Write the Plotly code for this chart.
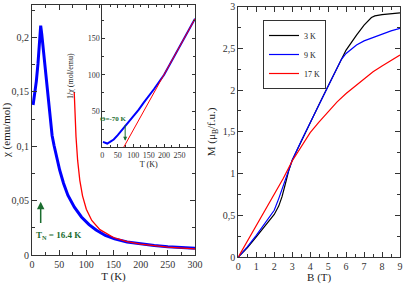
import plotly.graph_objects as go

# ---- main panel: susceptibility chi(T) ----
T_blue = [2, 5, 8, 11, 14, 16, 18, 21, 25, 29, 33.5, 37, 40.5, 45, 51, 58, 66, 78, 91,
          105, 118, 135, 152, 175, 200, 225, 250, 275, 300]
chi_blue = [0.138, 0.147, 0.160, 0.176, 0.197, 0.211, 0.203, 0.188, 0.165, 0.145, 0.124,
            0.110, 0.101, 0.090, 0.078, 0.066, 0.055, 0.044, 0.035, 0.028, 0.023, 0.018,
            0.0148, 0.012, 0.0102, 0.0088, 0.0077, 0.0068, 0.0061]
T_red = [77.7, 79, 81, 84, 88, 93, 100, 110, 125, 150, 175, 200, 250, 300]
chi_red = [0.150, 0.1305, 0.1088, 0.0870, 0.0687, 0.0544, 0.0421, 0.0318, 0.0233,
           0.0161, 0.0123, 0.00997, 0.00721, 0.00565]

# ---- inset: inverse susceptibility ----
inset_T_blue = [2, 8, 16, 25, 37, 50, 69, 85, 102, 118, 134, 150, 167, 200, 250, 300]
inset_inv_blue = [7.6, 6.2, 5.3, 7.5, 10.8, 16.8, 26.8, 34.5, 43, 52, 61.7, 70.5, 80,
                  100, 138.6, 177]
inset_T_red = [69, 300]
inset_inv_red = [0, 177]

# ---- right panel: magnetization M(B) ----
B_3K = [0, 0.5, 1, 1.5, 2, 2.25, 2.43, 2.6, 2.8, 3, 3.5, 4, 4.5, 5, 5.5, 5.74, 6, 6.58, 7,
        7.41, 7.6, 8, 8.5, 9]
M_3K = [0, 0.11, 0.24, 0.37, 0.51, 0.61, 0.72, 0.86, 1.03, 1.16, 1.39, 1.61, 1.83, 2.05,
        2.26, 2.37, 2.48, 2.66, 2.78, 2.87, 2.89, 2.905, 2.915, 2.925]
B_9K = [0, 0.5, 1, 1.5, 2, 2.25, 2.5, 2.75, 3, 3.5, 4, 4.5, 5, 5.5, 5.74, 6, 6.58, 7, 7.5,
        7.87, 8.5, 9]
M_9K = [0, 0.12, 0.26, 0.41, 0.56, 0.70, 0.85, 1.01, 1.16, 1.39, 1.61, 1.83, 2.05, 2.26,
        2.37, 2.44, 2.54, 2.59, 2.63, 2.66, 2.71, 2.74]
B_17K = [0, 0.5, 1, 1.5, 2, 2.5, 3, 3.7, 4, 4.5, 5, 5.5, 6, 6.5, 7, 7.5, 8, 8.5, 9]
M_17K = [0, 0.19, 0.37, 0.56, 0.75, 0.94, 1.15, 1.40, 1.49, 1.62, 1.74, 1.86, 1.96, 2.05,
         2.14, 2.22, 2.29, 2.36, 2.42]

FONT = "Liberation Serif"
GREEN = "#1b6d2f"

fig = go.Figure()
fig.add_trace(go.Scatter(x=T_blue, y=chi_blue, mode="lines", line=dict(color="#0000ff", width=3),
                         xaxis="x", yaxis="y", showlegend=False))
fig.add_trace(go.Scatter(x=T_red, y=chi_red, mode="lines", line=dict(color="#ff0000", width=1.3),
                         xaxis="x", yaxis="y", showlegend=False))
fig.add_trace(go.Scatter(x=inset_T_blue, y=inset_inv_blue, mode="lines",
                         line=dict(color="#0000ff", width=2), xaxis="x2", yaxis="y2", showlegend=False))
fig.add_trace(go.Scatter(x=inset_T_red, y=inset_inv_red, mode="lines",
                         line=dict(color="#ff0000", width=1), xaxis="x2", yaxis="y2", showlegend=False))
fig.add_trace(go.Scatter(x=B_3K, y=M_3K, mode="lines", name="3 K", line=dict(color="black", width=1.2),
                         xaxis="x3", yaxis="y3"))
fig.add_trace(go.Scatter(x=B_9K, y=M_9K, mode="lines", name="9 K", line=dict(color="#0000ff", width=1.2),
                         xaxis="x3", yaxis="y3"))
fig.add_trace(go.Scatter(x=B_17K, y=M_17K, mode="lines", name="17 K", line=dict(color="#ff0000", width=1.2),
                         xaxis="x3", yaxis="y3"))

W, H = 415, 284
def dx(a, b):
    return [a / W, b / W]
def dy(top, bottom):
    return [1 - bottom / H, 1 - top / H]

axis_common = dict(showline=True, linecolor="#333", linewidth=1, mirror="allticks",
                   ticks="inside", ticklen=5, tickcolor="#333", showgrid=False, zeroline=False,
                   automargin=False,
                   tickfont=dict(family=FONT, size=10, color="#333"))
small = {**axis_common, "tickfont": dict(family=FONT, size=8, color="#333"), "ticklen": 3}

fig.update_layout(
    width=W, height=H, margin=dict(l=0, r=0, t=0, b=0),
    paper_bgcolor="white", plot_bgcolor="white",
    separators=",.",
    font=dict(family=FONT, color="#222"),
    xaxis=dict(domain=dx(32, 195), range=[0, 300], dtick=50, anchor="y",
               minor=dict(dtick=25, ticks="inside", ticklen=3, tickcolor="#333"),
               title=dict(text="T (K)", font=dict(family=FONT, size=11), standoff=2),
               **axis_common),
    yaxis=dict(domain=dy(5, 255), range=[0, 0.23], tickvals=[0, 0.05, 0.1, 0.15, 0.2], anchor="x",
               minor=dict(dtick=0.025, ticks="inside", ticklen=3, tickcolor="#333"),
               title=dict(text="χ (emu/mol)", font=dict(family=FONT, size=11), standoff=4),
               **axis_common),
    xaxis2=dict(domain=dx(102.3, 195), range=[0, 300], tickvals=[0, 50, 100, 150, 200, 250], anchor="y2",
                minor=dict(dtick=25, ticks="inside", ticklen=2, tickcolor="#333"),
                title=dict(text="T (K)", font=dict(family=FONT, size=8), standoff=0),
                **small),
    yaxis2=dict(domain=dy(5, 147.4), range=[0, 196], tickvals=[50, 100, 150], anchor="x2",
                minor=dict(dtick=25, ticks="inside", ticklen=2, tickcolor="#333"),
                title=dict(text="1/χ (mol/emu)", font=dict(family=FONT, size=8), standoff=12),
                **small),
    xaxis3=dict(domain=dx(238.3, 400), range=[0, 9], dtick=1, anchor="y3",
                minor=dict(dtick=0.5, ticks="inside", ticklen=3, tickcolor="#333"),
                title=dict(text="B (T)", font=dict(family=FONT, size=11), standoff=2),
                **axis_common),
    yaxis3=dict(domain=dy(6.7, 257), range=[0, 3], dtick=0.5, anchor="x3",
                minor=dict(dtick=0.25, ticks="inside", ticklen=3, tickcolor="#333"),
                title=dict(text="M (μ<sub>B</sub>/f.u.)", font=dict(family=FONT, size=11), standoff=4),
                **axis_common),
    legend=dict(x=263 / W, y=1 - 20 / H, xanchor="left", yanchor="top",
                bordercolor="#333", borderwidth=1, bgcolor="white",
                font=dict(family=FONT, size=8), itemwidth=30, tracegroupgap=0),
)

fig.add_annotation(x=16, y=0.049, ax=16, ay=0.028, xref="x", yref="y", axref="x", ayref="y",
                   showarrow=True, arrowhead=2, arrowsize=1, arrowwidth=1.5, arrowcolor=GREEN, text="")
fig.add_annotation(x=48, y=0.0175, xref="x", yref="y", showarrow=False,
                   text="<b>T<sub>N</sub> = 16.4 K</b>", font=dict(family=FONT, size=9, color=GREEN))
fig.add_annotation(x=74, y=9, ax=74, ay=33, xref="x2", yref="y2", axref="x2", ayref="y2",
                   showarrow=True, arrowhead=2, arrowsize=0.8, arrowwidth=1, arrowcolor=GREEN, text="")
fig.add_annotation(x=35, y=39, xref="x2", yref="y2", showarrow=False,
                   text="<b>Θ=-70 K</b>", font=dict(family=FONT, size=7, color=GREEN))

fig.write_html("out.html", config={"displayModeBar": False},
               post_script="document.body.style.margin='0px';document.body.style.overflow='hidden';")
